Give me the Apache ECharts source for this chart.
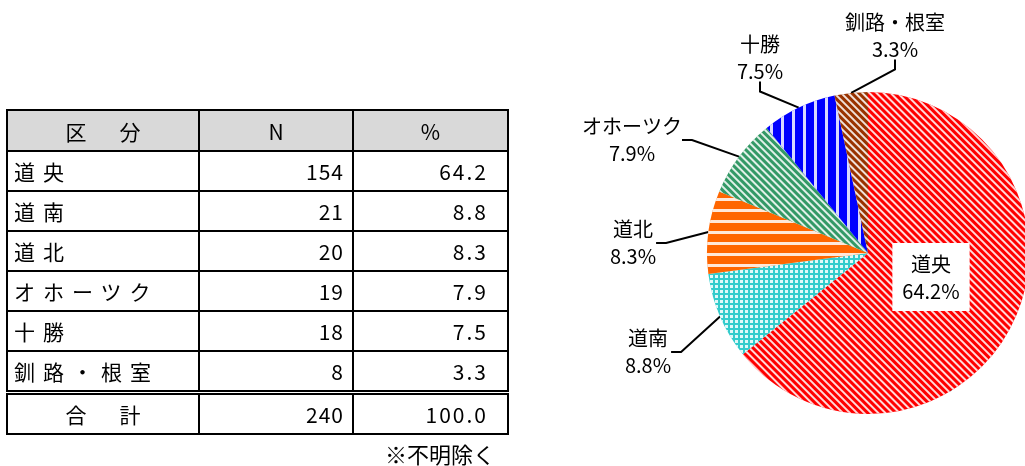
<!DOCTYPE html>
<html>
<head>
<meta charset="utf-8">
<script src="https://cdn.jsdelivr.net/npm/echarts@6/dist/echarts.min.js"></script>
<style>
  body { margin: 0; background: #fff; font-family: "Noto Sans CJK JP", sans-serif; }
  #chart { position: absolute; left: 0; top: 0; width: 1025px; height: 466px; }
  #tbl {
    position: absolute; left: 6px; top: 109px; width: 501px; table-layout: fixed;
    border-collapse: collapse; font-size: 21px; color: #000;
  }
  #tbl td, #tbl th { border: 2px solid #000; padding: 0; height: 38px; font-weight: normal; }
  #tbl th { background: #d9d9d9; text-align: center; height: 39px; }
  #tbl th.name { letter-spacing: 6px; padding-left: 6px; }
  #tbl td.name { text-align: left; padding-left: 6px; letter-spacing: 8px; }
  #tbl td.n { text-align: right; padding-right: 8px; letter-spacing: 1px; }
  #tbl td.p { text-align: right; padding-right: 19px; letter-spacing: 2px; }
  #tbl tr.total td { border-top: 5px double #000; }
  #tbl tr.total td.name { text-align: center; padding-left: 6px; letter-spacing: 6px; }
  #note { position: absolute; left: 360px; top: 437px; width: 135px; text-align: right; font-size: 22px; }
</style>
</head>
<body>
<div id="chart"></div>
<table id="tbl">
  <colgroup><col style="width:192px"><col style="width:154px"><col style="width:155px"></colgroup>
</table>
<div id="note">※不明除く</div>
<script>
// 区分 / N / %
var categories = ['道央', '道南', '道北', 'オホーツク', '十勝', '釧路・根室']
var counts = [154, 21, 20, 19, 18, 8]
var percents = [64.2, 8.8, 8.3, 7.9, 7.5, 3.3]
var totalLabel = '合　計'
var totalCount = 240
var totalPercent = 100.0
var headers = ['区　分', 'N', '%']

// 塗りつぶし色とハッチング
var colors = ['#ff0000', '#33cccc', '#ff6600', '#339966', '#0000ff', '#993300']
var decals = [
  { dashArrayX: [1, 0], dashArrayY: [1.6, 2.4], rotation: Math.PI / 4 },
  { dashArrayX: [3, 2], dashArrayY: [3, 2], rotation: 0 },
  { dashArrayX: [1, 0], dashArrayY: [3, 8], rotation: 0 },
  { dashArrayX: [1, 0], dashArrayY: [2, 2.5], rotation: Math.PI / 4 },
  { dashArrayX: [3, 8], dashArrayY: [1, 0], rotation: 0 },
  { dashArrayX: [1, 0], dashArrayY: [2, 3], rotation: Math.PI / 4 }
]

// ラベルの置き場所（元の図に合わせて手で配置）
var labelPos = [[931, 277], [648, 352], [633, 243], [632, 140], [760, 58], [895, 36]]

// 表
var tbl = document.getElementById('tbl')
var html = '<tr>' + headers.map(function (h, i) {
  return '<th' + (i === 0 ? ' class="name"' : '') + '>' + h + '</th>'
}).join('') + '</tr>'
categories.forEach(function (c, i) {
  html += '<tr><td class="name">' + c + '</td><td class="n">' + counts[i] +
    '</td><td class="p">' + percents[i].toFixed(1) + '</td></tr>'
})
html += '<tr class="total"><td class="name">' + totalLabel + '</td><td class="n">' + totalCount +
  '</td><td class="p">' + totalPercent.toFixed(1) + '</td></tr>'
tbl.insertAdjacentHTML('beforeend', html)

var chart = echarts.init(document.getElementById('chart'))

var pieData = categories.map(function (c, i) {
  var item = {
    name: c,
    value: counts[i],
    itemStyle: {
      color: colors[i],
      decal: Object.assign({
        symbol: 'rect',
        symbolSize: 1,
        symbolKeepAspect: false,
        color: 'rgba(255,255,255,0.85)'
      }, decals[i])
    }
  }
  if (i === 0) {
    // 道央だけ内側に白背景で表示
    item.label = {
      position: 'inside',
      backgroundColor: '#fff',
      padding: [8, 10, 6, 10]
    }
  }
  return item
})

chart.setOption({
  animation: false,
  aria: { enabled: true, decal: { show: true } },
  textStyle: { fontFamily: '"Noto Sans CJK JP", sans-serif' },
  series: [
    {
      type: 'pie',
      center: [868, 253],
      radius: 161,
      startAngle: 90,
      clockwise: true,
      avoidLabelOverlap: false,
      data: pieData,
      label: {
        show: true,
        position: 'outside',
        color: '#000',
        fontSize: 20,
        formatter: function (p) {
          return '{a|' + p.name + '}\n{a|' + percents[p.dataIndex].toFixed(1) + '%}'
        },
        rich: {
          a: { align: 'center', fontSize: 20, lineHeight: 27, color: '#000' }
        }
      },
      labelLine: {
        show: true,
        length: 20,
        length2: 10,
        lineStyle: { color: '#000', width: 2 }
      },
      labelLayout: function (params) {
        var p = labelPos[params.dataIndex]
        return { x: p[0], y: p[1], align: 'center', verticalAlign: 'middle' }
      },
      emphasis: { disabled: true }
    }
  ]
})
</script>
</body>
</html>
